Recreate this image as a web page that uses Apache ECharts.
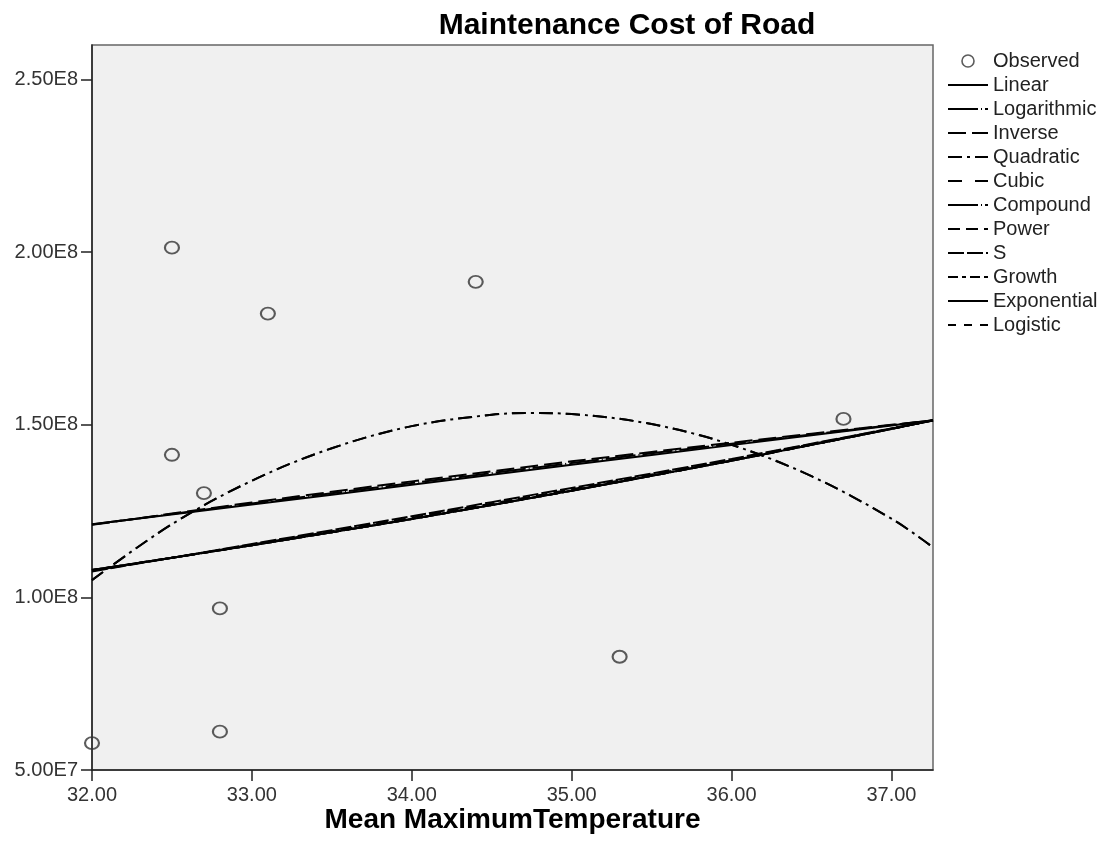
<!DOCTYPE html>
<html>
<head>
<meta charset="utf-8">
<script src="https://cdn.jsdelivr.net/npm/echarts@6/dist/echarts.min.js"></script>
<style>
  html, body { margin: 0; padding: 0; background: #ffffff; }
  #chart { width: 1108px; height: 852px; }
</style>
</head>
<body>
<div id="chart"></div>
<script>
// Observed cases: mean maximum temperature vs. road maintenance cost
const observedX = [32.0, 32.5, 32.5, 32.7, 32.8, 32.8, 33.1, 34.4, 35.3, 36.7];
const observedY = [5.78e7, 2.013e8, 1.413e8, 1.302e8, 9.68e7, 6.11e7, 1.822e8, 1.914e8, 8.28e7, 1.517e8];

// Fitted curves, sampled along the temperature range
const fitX = [32.0, 33.0, 34.0, 35.0, 36.0, 37.0, 37.26];
const linearY      = [1.212e8, 1.269e8, 1.326e8, 1.384e8, 1.441e8, 1.498e8, 1.513e8];
const logarithmicY = [1.211e8, 1.272e8, 1.331e8, 1.389e8, 1.445e8, 1.499e8, 1.513e8];
const inverseY     = [1.210e8, 1.275e8, 1.336e8, 1.394e8, 1.448e8, 1.500e8, 1.512e8];
const compoundY    = [1.079e8, 1.151e8, 1.227e8, 1.309e8, 1.396e8, 1.488e8, 1.513e8];
const powerY       = [1.077e8, 1.153e8, 1.231e8, 1.313e8, 1.399e8, 1.489e8, 1.5125e8];
const sY           = [1.075e8, 1.1545e8, 1.235e8, 1.317e8, 1.401e8, 1.4895e8, 1.512e8];
const growthY      = [1.079e8, 1.151e8, 1.227e8, 1.309e8, 1.396e8, 1.488e8, 1.513e8];
const exponentialY = [1.079e8, 1.151e8, 1.227e8, 1.309e8, 1.396e8, 1.488e8, 1.513e8];
const logisticY    = [1.079e8, 1.151e8, 1.227e8, 1.309e8, 1.396e8, 1.488e8, 1.513e8];

const polyX      = [32.0, 32.5, 33.0, 33.5, 34.0, 34.5, 34.75, 35.0, 35.5, 36.0, 36.5, 37.0, 37.26];
const quadraticY = [1.050e8, 1.212e8, 1.338e8, 1.432e8, 1.496e8, 1.529e8, 1.534e8, 1.531e8, 1.502e8, 1.442e8, 1.351e8, 1.228e8, 1.145e8];
const cubicY     = [1.050e8, 1.212e8, 1.338e8, 1.432e8, 1.496e8, 1.529e8, 1.534e8, 1.531e8, 1.502e8, 1.442e8, 1.351e8, 1.228e8, 1.145e8];

// Axis ticks
const xTicks = [32, 33, 34, 35, 36, 37];
const yTicks = [5e7, 1e8, 1.5e8, 2e8, 2.5e8];

const FONT = '"Liberation Sans", Arial, sans-serif';

function pairs(xs, ys) { return xs.map((x, i) => [x, ys[i]]); }

function fitSeries(name, xs, ys, dash) {
  return {
    name: name,
    type: 'line',
    data: pairs(xs, ys),
    symbol: 'none',
    smooth: xs.length > 7 ? 0.35 : 0.2,
    silent: true,
    itemStyle: { color: '#000', opacity: 0 },
    lineStyle: { color: '#000', width: 2, type: dash, opacity: 1 },
    z: 3
  };
}

const chart = echarts.init(document.getElementById('chart'), null, { renderer: 'canvas' });

chart.setOption({
  animation: false,
  backgroundColor: '#ffffff',
  title: {
    text: 'Maintenance Cost of Road',
    left: 622,
    textAlign: 'center',
    top: 6,
    textStyle: { fontFamily: FONT, fontSize: 30, fontWeight: 'bold', color: '#000' }
  },
  grid: {
    left: 92, right: 175, top: 45, bottom: 82,
    show: true,
    backgroundColor: '#f0f0f0',
    borderColor: '#666',
    borderWidth: 1.5
  },
  legend: {
    orient: 'vertical',
    left: 947,
    top: 51,
    padding: 0,
    itemWidth: 40,
    itemHeight: 12,
    itemGap: 4,
    symbolKeepAspect: true,
    textStyle: { fontFamily: FONT, fontSize: 20, color: '#222', lineHeight: 20 },
    data: [
      { name: 'Observed', icon: 'circle', itemStyle: { color: 'rgba(0,0,0,0)', borderColor: '#333', borderWidth: 1.6 } },
      'Linear', 'Logarithmic', 'Inverse', 'Quadratic', 'Cubic', 'Compound',
      'Power', 'S', 'Growth', 'Exponential', 'Logistic'
    ]
  },
  xAxis: {
    type: 'value',
    min: 32,
    max: 37.26,
    interval: 1,
    name: 'Mean MaximumTemperature',
    nameLocation: 'middle',
    nameGap: 36,
    nameMoveOverlap: false,
    nameTextStyle: { fontFamily: FONT, fontSize: 28, fontWeight: 'bold', color: '#000' },
    axisLine: { show: true, onZero: false, lineStyle: { color: '#222', width: 1.5 } },
    axisTick: { show: true, length: 11, customValues: xTicks, lineStyle: { color: '#222', width: 1.5 } },
    axisLabel: {
      customValues: xTicks,
      margin: 15,
      fontFamily: FONT, fontSize: 20, color: '#333',
      formatter: v => v.toFixed(2)
    },
    splitLine: { show: false }
  },
  yAxis: {
    type: 'value',
    min: 5e7,
    max: 2.6e8,
    interval: 5e7,
    axisLine: { show: true, onZero: false, lineStyle: { color: '#222', width: 1.5 } },
    axisTick: { show: true, length: 11, customValues: yTicks, lineStyle: { color: '#222', width: 1.5 } },
    axisLabel: {
      customValues: yTicks,
      margin: 14,
      fontFamily: FONT, fontSize: 20, color: '#333',
      formatter: v => v.toExponential(2).replace('e+', 'E')
    },
    splitLine: { show: false }
  },
  series: [
    {
      name: 'Observed',
      type: 'scatter',
      data: pairs(observedX, observedY),
      symbol: 'circle',
      symbolSize: [14, 12],
      itemStyle: { color: 'rgba(0,0,0,0)', borderColor: '#333', borderWidth: 2 },
      z: 5
    },
    fitSeries('Linear', fitX, linearY, 'solid'),
    fitSeries('Logarithmic', fitX, logarithmicY, [30, 3, 1, 3]),
    fitSeries('Inverse', fitX, inverseY, [18, 6]),
    fitSeries('Quadratic', polyX, quadraticY, [14, 5, 3, 5]),
    fitSeries('Cubic', polyX, cubicY, [14, 13]),
    fitSeries('Compound', fitX, compoundY, [30, 3, 1, 3]),
    fitSeries('Power', fitX, powerY, [12, 6]),
    fitSeries('S', fitX, sY, [16, 3]),
    fitSeries('Growth', fitX, growthY, [10, 4, 4, 4]),
    fitSeries('Exponential', fitX, exponentialY, 'solid'),
    fitSeries('Logistic', fitX, logisticY, [8, 8])
  ]
});
</script>
</body>
</html>
